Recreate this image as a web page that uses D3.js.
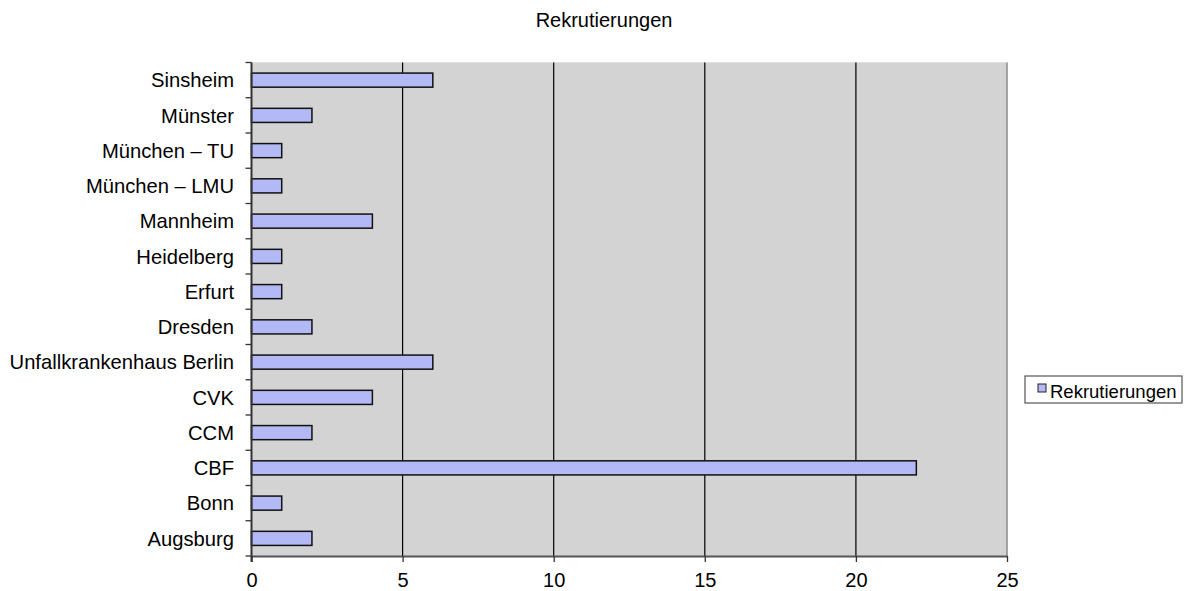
<!DOCTYPE html>
<html><head><meta charset="utf-8">
<script src="https://cdn.jsdelivr.net/npm/d3@7"></script>
<style>body{margin:0;background:#fff;} text{font-family:"Liberation Sans",Arial,sans-serif;fill:#000;}</style>
</head><body>
<svg id="c" width="1188" height="591"></svg>
<script>
const categories = ["Sinsheim","Münster","München – TU","München – LMU","Mannheim","Heidelberg","Erfurt","Dresden","Unfallkrankenhaus Berlin","CVK","CCM","CBF","Bonn","Augsburg"];
const values = [6,2,1,1,4,1,1,2,6,4,2,22,1,2];
const xTicks = [0,5,10,15,20,25];
const seriesName = "Rekrutierungen";
const title = "Rekrutierungen";

const svg = d3.select("#c");
const L = 251.5, R = 1007, T = 62.5, B = 556;
const x = d3.scaleLinear().domain([0,25]).range([L,R]);
const y = d3.scaleBand().domain(categories).range([T,B]).paddingInner(0.6).paddingOuter(0.3);
const yb = d3.scaleBand().domain(categories).range([T,B]);

svg.append("rect").attr("x",L).attr("y",T).attr("width",R-L).attr("height",B-T).attr("fill","#d3d3d3");
svg.append("path").attr("d",`M${L},${T}H${R}`).attr("stroke","#e0e0e0").attr("stroke-width",1).attr("fill","none");
svg.append("path").attr("d",`M${R},${T}V${B}`).attr("stroke","#8a8a8a").attr("stroke-width",1.5).attr("fill","none");

// grid
svg.selectAll(".g").data(xTicks.slice(1,-1)).join("line")
  .attr("x1",d=>x(d)).attr("x2",d=>x(d)).attr("y1",T).attr("y2",B)
  .attr("stroke","#000").attr("stroke-width",1.2);

// bars
svg.selectAll(".bar").data(values).join("rect")
  .attr("x",x(0)).attr("y",(d,i)=>y(categories[i]))
  .attr("width",d=>x(d)-x(0)).attr("height",y.bandwidth())
  .attr("fill","#b3b9f4").attr("stroke","#111").attr("stroke-width",1.5);

// x axis
const xa = svg.append("g").attr("transform",`translate(0,${B})`)
  .call(d3.axisBottom(x).tickValues(xTicks).tickSize(6).tickSizeOuter(0).tickPadding(11));
xa.select(".domain").attr("stroke","#555").attr("stroke-width",2);
xa.selectAll(".tick line").attr("stroke","#333").attr("stroke-width",1.3);
xa.selectAll("text").attr("font-size",20).attr("font-family","Liberation Sans, Arial, sans-serif");

// y axis with ticks at band boundaries
svg.append("line").attr("x1",L).attr("x2",L).attr("y1",T).attr("y2",B+6).attr("stroke","#333").attr("stroke-width",2);
const bounds = categories.map(c=>yb(c)).concat([B]);
svg.selectAll(".yt").data(bounds).join("line")
  .attr("x1",L-6).attr("x2",L).attr("y1",d=>d).attr("y2",d=>d)
  .attr("stroke","#333").attr("stroke-width",1.3);
svg.selectAll(".yl").data(categories).join("text")
  .attr("x",234).attr("y",d=>yb(d)+yb.bandwidth()/2).attr("dy","0.36em")
  .attr("text-anchor","end").attr("font-size",20.2).text(d=>d);

// title
svg.append("text").attr("x",604).attr("y",27).attr("text-anchor","middle").attr("font-size",20).text(title);

// legend
const lg = svg.append("g");
lg.append("rect").attr("x",1025).attr("y",376).attr("width",157).attr("height",27).attr("fill","#fff").attr("stroke","#555").attr("stroke-width",1.2);
lg.append("rect").attr("x",1038).attr("y",384).attr("width",8).attr("height",8).attr("fill","#b3b9f4").attr("stroke","#222").attr("stroke-width",1);
lg.append("text").attr("x",1050).attr("y",396).attr("dy","0.1em").attr("font-size",18.5).text(seriesName);
</script>
</body></html>
